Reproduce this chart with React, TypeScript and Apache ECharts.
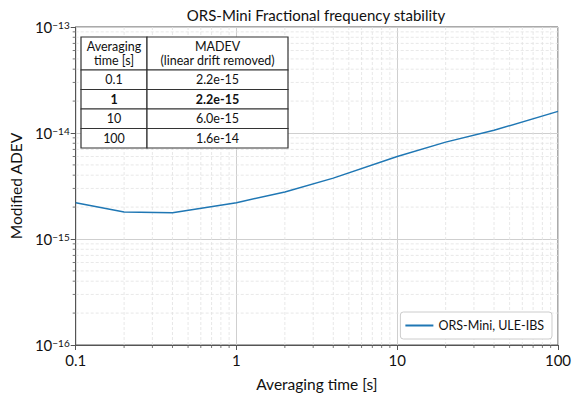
import React, { useEffect, useRef } from "react";
import * as echarts from "echarts";

const tau = [0.1, 0.2, 0.4, 1, 2, 4, 10, 20, 40, 100];
const madev = [2.2e-15, 1.8e-15, 1.77e-15, 2.2e-15, 2.78e-15, 3.75e-15, 6.0e-15, 8.2e-15, 1.06e-14, 1.6e-14];
const seriesName = "ORS-Mini, ULE-IBS";

const tableHeader = ["Averaging\ntime [s]", "MADEV\n(linear drift removed)"];
const tableTau = ["0.1", "1", "10", "100"];
const tableMadev = ["2.2e-15", "2.2e-15", "6.0e-15", "1.6e-14"];
const boldRow = 1;

const xMin = 0.1, xMax = 100, yMin = 1e-16, yMax = 1e-13;

const minorTicks = (lo: number, hi: number) => {
  const out: number[] = [];
  for (let d = lo; d < hi * 0.999; d *= 10) {
    for (let k = 2; k <= 9; k++) out.push(d * k);
  }
  return out;
};
const xMinor = minorTicks(xMin, xMax);
const yMinor = minorTicks(yMin, yMax);

const FONT = "Lato";

export default function App() {
  const ref = useRef<HTMLDivElement>(null);
  useEffect(() => {
    const chart = echarts.init(ref.current!, null, { renderer: "svg" });

    const tx = 81, ty = 37, c1 = 66, c2 = 141, hh = 33, rh = 19.5;
    const tableEls: any[] = [];
    const cell = (x: number, y: number, w: number, h: number, text: string, bold = false) => {
      tableEls.push({ type: "rect", shape: { x, y, width: w, height: h }, style: { fill: "#fff", stroke: "#333", lineWidth: 1.2 }, z: 100 });
      tableEls.push({
        type: "text", x: x + w / 2, y: y + h / 2, z: 101,
        style: { text, fill: "#111", font: `${bold ? "bold " : ""}12.5px ${FONT}`, align: "center", verticalAlign: "middle", lineHeight: 14 },
      });
    };
    cell(tx, ty, c1, hh, tableHeader[0]);
    cell(tx + c1, ty, c2, hh, tableHeader[1]);
    tableTau.forEach((t, i) => {
      const y = ty + hh + i * rh;
      cell(tx, y, c1, rh, t, i === boldRow);
      cell(tx + c1, y, c2, rh, tableMadev[i], i === boldRow);
    });

    chart.setOption({
      animation: false,
      textStyle: { fontFamily: FONT },
      title: {
        text: "ORS-Mini Fractional frequency stability",
        left: 311, top: 2, textAlign: "center",
        textStyle: { fontFamily: FONT, fontSize: 15, fontWeight: "normal", color: "#111" },
      },
      grid: { left: 66, right: 18, top: 27, bottom: 51, show: true, borderColor: "#555", borderWidth: 1, backgroundColor: "transparent" },
      legend: {
        right: 24, bottom: 58,
        data: [{ name: seriesName, icon: "rect" }],
        borderColor: "#ccc", borderWidth: 1, borderRadius: 3,
        padding: [7, 8, 7, 5],
        itemWidth: 28, itemHeight: 2, itemGap: 10,
        textStyle: { fontFamily: FONT, fontSize: 12.5, color: "#111" },
        backgroundColor: "#fff",
      },
      xAxis: {
        type: "log", logBase: 10, min: xMin, max: xMax,
        name: "Averaging time [s]", nameLocation: "middle", nameGap: 31,
        nameTextStyle: { fontFamily: FONT, fontSize: 15.5, color: "#111" },
        axisLine: { lineStyle: { color: "#555" } },
        axisTick: { show: true, inside: false, length: 5, lineStyle: { color: "#555" } },
        axisLabel: { fontFamily: FONT, fontSize: 15, color: "#111", margin: 7, formatter: (v: number) => String(Number(v.toPrecision(3))) },
        splitLine: { show: true, lineStyle: { color: "#cfcfcf", width: 1 } },
      },
      yAxis: {
        type: "log", logBase: 10, min: yMin, max: yMax,
        name: "Modified ADEV", nameLocation: "middle", nameGap: 45,
        nameTextStyle: { fontFamily: FONT, fontSize: 15.5, color: "#111" },
        axisLine: { lineStyle: { color: "#555" } },
        axisTick: { show: true, inside: false, length: 5, lineStyle: { color: "#555" } },
        axisLabel: {
          margin: 6,
          formatter: (v: number) => `{b|10}{s|−${Math.abs(Math.round(Math.log10(v)))}}`,
          rich: {
            b: { fontFamily: FONT, fontSize: 15, color: "#111", verticalAlign: "bottom" },
            s: { fontFamily: FONT, fontSize: 10, color: "#111", verticalAlign: "top" },
          },
        },
        splitLine: { show: true, lineStyle: { color: "#cfcfcf", width: 1 } },
      },
      series: [
        {
          type: "custom", silent: true, z: 1,
          data: xMinor.map((v) => [v, yMin]),
          renderItem: (params: any, api: any) => {
            const b = api.coord([api.value(0), yMin]);
            const t = api.coord([api.value(0), yMax]);
            return {
              type: "group",
              children: [
                { type: "line", shape: { x1: b[0], y1: b[1], x2: t[0], y2: t[1] }, style: { stroke: "#e2e2e2", lineWidth: 0.8, lineDash: [3, 2] } },
                { type: "line", shape: { x1: b[0], y1: b[1], x2: b[0], y2: b[1] + 3 }, style: { stroke: "#555", lineWidth: 0.8 } },
              ],
            };
          },
        },
        {
          type: "custom", silent: true, z: 1,
          data: yMinor.map((v) => [xMin, v]),
          renderItem: (params: any, api: any) => {
            const l = api.coord([xMin, api.value(1)]);
            const r = api.coord([xMax, api.value(1)]);
            return {
              type: "group",
              children: [
                { type: "line", shape: { x1: l[0], y1: l[1], x2: r[0], y2: r[1] }, style: { stroke: "#e2e2e2", lineWidth: 0.8, lineDash: [3, 2] } },
                { type: "line", shape: { x1: l[0] - 3, y1: l[1], x2: l[0], y2: l[1] }, style: { stroke: "#555", lineWidth: 0.8 } },
              ],
            };
          },
        },
        {
          name: seriesName, type: "line", z: 5,
          data: tau.map((t, i) => [t, madev[i]]),
          showSymbol: false, symbol: "none",
          lineStyle: { color: "#1f77b4", width: 1.5 },
          itemStyle: { color: "#1f77b4" },
        },
      ],
      graphic: [{ type: "group", children: tableEls }],
    });
    return () => chart.dispose();
  }, []);
  return <div ref={ref} style={{ width: 576, height: 397, position: "absolute", left: 0, top: 0 }} />;
}
